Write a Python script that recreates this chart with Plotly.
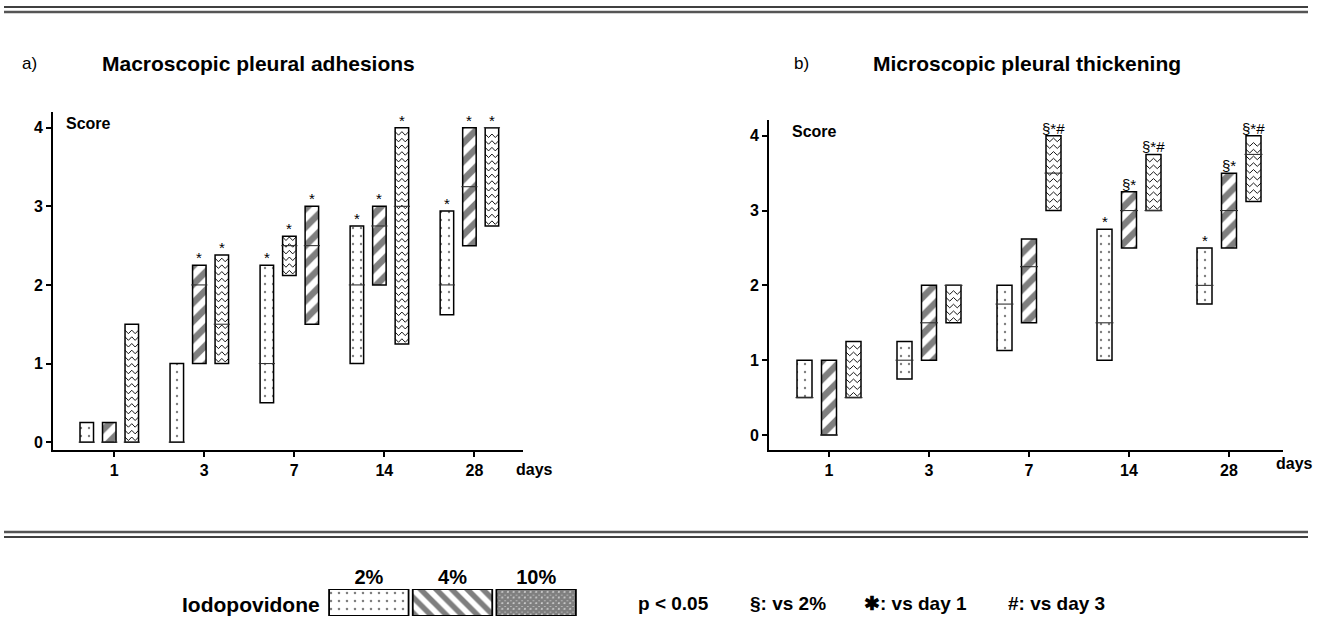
import numpy as np
import plotly.graph_objects as go

# ---------------- data ----------------
days = ["1", "3", "7", "14", "28"]
concentrations = ["2%", "4%", "10%"]

# a) Macroscopic pleural adhesions (score ranges, medians)
adh_2_low = [0.0, 0.0, 0.5, 1.0, 1.62]
adh_2_high = [0.25, 1.0, 2.25, 2.75, 2.94]
adh_2_med = [0.0, 0.0, 1.0, 2.0, 2.0]
adh_2_sig = ["", "", "*", "*", "*"]

adh_4_low = [0.0, 1.0, 1.5, 2.0, 2.5]
adh_4_high = [0.25, 2.25, 3.0, 3.0, 4.0]
adh_4_med = [0.0, 2.0, 2.5, 2.75, 3.25]
adh_4_sig = ["", "*", "*", "*", "*"]

adh_10_low = [0.0, 1.0, 2.12, 1.25, 2.75]
adh_10_high = [1.5, 2.38, 2.62, 4.0, 4.0]
adh_10_med = [0.0, 1.5, 2.5, 3.0, 4.0]
adh_10_sig = ["", "*", "*", "*", "*"]

# b) Microscopic pleural thickening
thk_2_low = [0.5, 0.75, 1.13, 1.0, 1.75]
thk_2_high = [1.0, 1.25, 2.0, 2.75, 2.5]
thk_2_med = [0.5, 1.0, 1.75, 1.5, 2.0]
thk_2_sig = ["", "", "", "*", "*"]

thk_4_low = [0.0, 1.0, 1.5, 2.5, 2.5]
thk_4_high = [1.0, 2.0, 2.62, 3.25, 3.5]
thk_4_med = [0.0, 1.5, 2.25, 3.0, 3.0]
thk_4_sig = ["", "", "", "§*", "§*"]

thk_10_low = [0.5, 1.5, 3.0, 3.0, 3.12]
thk_10_high = [1.25, 2.0, 4.0, 3.75, 4.0]
thk_10_med = [0.5, 2.0, 3.5, 3.0, 3.75]
thk_10_sig = ["", "", "§*#", "§*#", "§*#"]

y_ticks = [0, 1, 2, 3, 4]

# ---------------- layout helpers ----------------
W, H = 1330, 628
FONT = "Liberation Sans"


def fx(p):
    return p / W


def fy(p):
    return 1 - p / H


panels = {
    "a": dict(
        xa="x", ya="y",
        data={
            "2%": (adh_2_low, adh_2_high, adh_2_med, adh_2_sig),
            "4%": (adh_4_low, adh_4_high, adh_4_med, adh_4_sig),
            "10%": (adh_10_low, adh_10_high, adh_10_med, adh_10_sig),
        },
        xdom=(53, 523), ydom=(112, 450),
        xrange=(-0.68, 4.54), yrange=(-0.1, 4.2),
        offsets=[-0.305, -0.055, 0.195], width=0.15,
        slots={"2%": [0, 0, 0, 0, 0], "4%": [1, 1, 2, 1, 1], "10%": [2, 2, 1, 2, 2]},
        row_sp=0.085, row_d=0.045,
    ),
    "b": dict(
        xa="x2", ya="y2",
        data={
            "2%": (thk_2_low, thk_2_high, thk_2_med, thk_2_sig),
            "4%": (thk_4_low, thk_4_high, thk_4_med, thk_4_sig),
            "10%": (thk_10_low, thk_10_high, thk_10_med, thk_10_sig),
        },
        xdom=(769, 1283), ydom=(120, 450),
        xrange=(-0.6, 4.54), yrange=(-0.2, 4.21),
        offsets=[-0.245, 0.0, 0.245], width=0.15,
        slots={"2%": [0] * 5, "4%": [1] * 5, "10%": [2] * 5},
        row_sp=0.09, row_d=0.048,
    ),
}

patterns = {
    "2%": dict(shape=".", size=8, solidity=0.07, fgcolor="black", bgcolor="white"),
    "4%": dict(shape="/", size=13, solidity=0.5, fgcolor="black", bgcolor="white"),
    "10%": None,
}

fig = go.Figure()
annotations = []

for key, p in panels.items():
    xa, ya = p["xa"], p["ya"]
    w = p["width"]
    chev_x, chev_y, med_x, med_y = [], [], [], []
    for s in concentrations:
        low, high, med, sig = p["data"][s]
        xs = [i + p["offsets"][p["slots"][s][i]] for i in range(len(days))]
        marker = dict(color="white", line=dict(color="black", width=1.5))
        if patterns[s] is not None:
            marker["pattern"] = patterns[s]
        fig.add_trace(go.Bar(
            x=xs, y=[h - l for h, l in zip(high, low)], base=low, width=w,
            marker=marker, xaxis=xa, yaxis=ya, showlegend=False, hoverinfo="skip",
        ))
        for i, c in enumerate(xs):
            # chevron texture for the 10% bars
            if s == "10%":
                yb = low[i] + p["row_d"] + 0.02
                while yb <= high[i] - 0.01:
                    x0, x1 = c - w / 2, c + w / 2
                    chev_x += [x0, c - w / 4, c, c + w / 4, x1, None]
                    chev_y += [yb, yb - p["row_d"], yb, yb - p["row_d"], yb, None]
                    yb += p["row_sp"]
            # median line
            med_x += [c - w / 2 - 0.015, c + w / 2 + 0.015, None]
            med_y += [med[i], med[i], None]
            # significance marks
            t = sig[i]
            if not t:
                continue
            annotations.append(dict(
                x=c, y=high[i], xref=xa, yref=ya, showarrow=False,
                yanchor="bottom", xanchor="center", text=t,
                yshift=-3, font=dict(family=FONT, size=15, color="black"),
            ))
    fig.add_trace(go.Scatter(x=chev_x, y=chev_y, mode="lines", xaxis=xa, yaxis=ya,
                             line=dict(color="black", width=0.9), showlegend=False,
                             hoverinfo="skip"))
    fig.add_trace(go.Scatter(x=med_x, y=med_y, mode="lines", xaxis=xa, yaxis=ya,
                             line=dict(color="#333333", width=1.1), showlegend=False,
                             hoverinfo="skip"))

# legend swatches
legend_patterns = {
    "2%": dict(shape=".", size=8, solidity=0.08, fgcolor="black", bgcolor="white"),
    "4%": dict(shape="\\", size=11, solidity=0.5, fgcolor="black", bgcolor="white"),
    "10%": dict(shape="x", size=4, solidity=0.9, fgcolor="black", bgcolor="white"),
}
for s in concentrations:
    fig.add_trace(go.Bar(
        x=[s], y=[1], base=[0], width=0.95, xaxis="x3", yaxis="y3",
        marker=dict(color="white", line=dict(color="black", width=1.8),
                    pattern=legend_patterns[s]),
        showlegend=False, hoverinfo="skip",
    ))

axis_common = dict(showline=True, linecolor="black", linewidth=1.6, ticks="outside",
                   ticklen=5, tickwidth=1.5, tickcolor="black", showgrid=False,
                   zeroline=False, tickfont=dict(family=FONT, size=16, color="black", weight="bold"))

layout_axes = {}
for key, p in panels.items():
    xn = "xaxis" if p["xa"] == "x" else "xaxis2"
    yn = "yaxis" if p["ya"] == "y" else "yaxis2"
    layout_axes[xn] = dict(axis_common, domain=[fx(p["xdom"][0]), fx(p["xdom"][1])],
                           range=list(p["xrange"]), tickmode="array",
                           tickvals=list(range(len(days))), ticktext=days,
                           anchor=p["ya"])
    layout_axes[yn] = dict(axis_common, domain=[fy(p["ydom"][1]), fy(p["ydom"][0])],
                           range=list(p["yrange"]), tickmode="array", tickvals=y_ticks,
                           anchor=p["xa"])

layout_axes["xaxis3"] = dict(domain=[fx(327), fx(578)], range=[-0.5, 2.5], anchor="y3",
                             side="top", showline=False, ticks="", showgrid=False,
                             zeroline=False,
                             tickfont=dict(family=FONT, size=20, color="black", weight="bold"))
layout_axes["yaxis3"] = dict(domain=[fy(616), fy(589)], range=[0, 1], anchor="x3",
                             visible=False)


# text annotations
def txt(x, y, text, size, bold=False, xanchor="left"):
    annotations.append(dict(
        x=fx(x), y=fy(y), xref="paper", yref="paper", text=text, showarrow=False,
        xanchor=xanchor, yanchor="middle",
        font=dict(family=FONT, size=size, color="black", weight="bold" if bold else "normal"),
    ))


txt(20, 64, "a)", 17)
txt(100, 64, "Macroscopic pleural adhesions", 21, bold=True)
txt(792, 64, "b)", 17)
txt(871, 64, "Microscopic pleural thickening", 21, bold=True)
txt(64, 124, "Score", 16, bold=True)
txt(790, 131, "Score", 16, bold=True)
txt(514, 469, "days", 16, bold=True)
txt(1274, 463, "days", 16, bold=True)
txt(322, 604, "Iodopovidone", 21, bold=True, xanchor="right")
txt(636, 603, "p < 0.05", 19, bold=True)
txt(748, 603, "§: vs 2%", 19, bold=True)
txt(862, 603, "✱: vs day 1", 19, bold=True)
txt(1006, 603, "#: vs day 3", 19, bold=True)

# double separator lines
shapes = []
for (yy, col, lw) in [(7, "black", 1.6), (12, "#555555", 2.4), (532, "#555555", 2.4), (537, "black", 1.6)]:
    shapes.append(dict(type="line", xref="paper", yref="paper",
                       x0=fx(4), x1=fx(1308), y0=fy(yy), y1=fy(yy),
                       line=dict(color=col, width=lw)))

fig.update_layout(
    width=W, height=H, margin=dict(l=0, r=0, t=0, b=0),
    paper_bgcolor="white", plot_bgcolor="white", barmode="overlay",
    annotations=annotations, shapes=shapes, showlegend=False,
    **layout_axes,
)

fig.write_html("out.html", config={"displayModeBar": False},
               post_script="document.body.style.margin='0px';")
